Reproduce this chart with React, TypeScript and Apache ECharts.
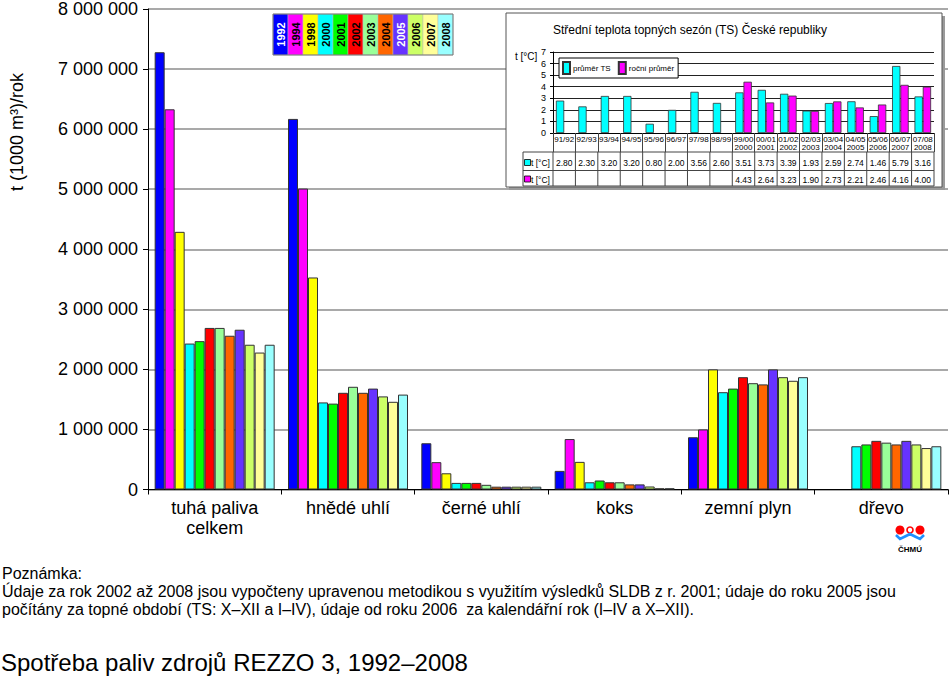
import React, { useEffect, useRef } from 'react';
import * as echarts from 'echarts';

const categories = ['tuhá paliva\ncelkem', 'hnědé uhlí', 'černé uhlí', 'koks', 'zemní plyn', 'dřevo'];
const years = ['1992', '1994', '1998', '2000', '2001', '2002', '2003', '2004', '2005', '2006', '2007', '2008'];
const yearColors = ['#0000FF', '#FF00FF', '#FFFF00', '#00FFFF', '#00FF00', '#FF0000', '#99FF99', '#FF6600', '#6633FF', '#CCFF66', '#FFFF99', '#99FFFF'];
const yearTextColors = ['#fff', '#000', '#000', '#000', '#000', '#000', '#000', '#000', '#fff', '#000', '#000', '#000'];

const v1992 = [7280000, 6170000, 770000, 310000, 870000, null];
const v1994 = [6330000, 5010000, 455000, 840000, 1000000, null];
const v1998 = [4290000, 3530000, 270000, 460000, 2000000, null];
const v2000 = [2430000, 1450000, 110000, 120000, 1620000, 720000];
const v2001 = [2470000, 1430000, 110000, 150000, 1680000, 750000];
const v2002 = [2690000, 1610000, 110000, 120000, 1870000, 810000];
const v2003 = [2690000, 1710000, 78000, 120000, 1770000, 780000];
const v2004 = [2560000, 1610000, 47000, 85000, 1750000, 750000];
const v2005 = [2660000, 1680000, 47000, 85000, 2000000, 810000];
const v2006 = [2410000, 1550000, 47000, 50000, 1870000, 750000];
const v2007 = [2280000, 1460000, 47000, 20000, 1810000, 690000];
const v2008 = [2410000, 1580000, 47000, 20000, 1870000, 720000];
const mainValues = [v1992, v1994, v1998, v2000, v2001, v2002, v2003, v2004, v2005, v2006, v2007, v2008];

const yTicks = [0, 1000000, 2000000, 3000000, 4000000, 5000000, 6000000, 7000000, 8000000];

const seasons = ['91/92', '92/93', '93/94', '94/95', '95/96', '96/97', '97/98', '98/99', '99/00\n2000', '00/01\n2001', '01/02\n2002', '02/03\n2003', '03/04\n2004', '04/05\n2005', '05/06\n2006', '06/07\n2007', '07/08\n2008'];
const tsAvg = [2.80, 2.30, 3.20, 3.20, 0.80, 2.00, 3.56, 2.60, 3.51, 3.73, 3.39, 1.93, 2.59, 2.74, 1.46, 5.79, 3.16];
const yearAvg = [null, null, null, null, null, null, null, null, 4.43, 2.64, 3.23, 1.90, 2.73, 2.21, 2.46, 4.16, 4.00];
const insetNames = ['průměr TS', 'roční průměr'];
const insetColors = ['#00FFFF', '#FF00FF'];

const FONT = '"Liberation Sans", Arial, sans-serif';

function fmt(v: number) {
  return String(v).replace(/\B(?=(\d{3})+(?!\d))/g, ' ');
}

function buildOption() {
  const insetL = 553, insetR = 934, insetTop = 52, insetBottom = 133;
  const colW = (insetR - insetL) / seasons.length;
  const tL = 523, row1T = 152, row2T = 170.5, tB = 186;

  const g: any[] = [];
  // inset box shadow + box
  g.push({ type: 'rect', z: 1, shape: { x: 509, y: 16, width: 436, height: 174 }, style: { fill: '#9a9a9a' } });
  g.push({ type: 'rect', z: 1, shape: { x: 506, y: 13, width: 436, height: 174 }, style: { fill: '#fff', stroke: '#555', lineWidth: 1 } });
  g.push({ type: 'text', z: 5, x: 690, y: 30, style: { text: 'Střední teplota topných sezón (TS) České republiky', font: '12px ' + FONT, fill: '#000', align: 'center', verticalAlign: 'middle' } });
  g.push({ type: 'text', z: 5, x: 515, y: 56, style: { text: 't [°C]', font: '10px ' + FONT, fill: '#000', align: 'left', verticalAlign: 'middle' } });

  // table lines
  const ln = (x1: number, y1: number, x2: number, y2: number) => ({ type: 'line', z: 5, shape: { x1, y1, x2, y2 }, style: { stroke: '#444', lineWidth: 1 } });
  g.push(ln(tL, row1T, insetR, row1T));
  g.push(ln(tL, row2T, insetR, row2T));
  g.push(ln(tL, tB, insetR, tB));
  g.push(ln(tL, row1T, tL, tB));
  for (let i = 0; i <= seasons.length; i++) {
    const x = insetL + i * colW;
    g.push(ln(x, row1T, x, tB));
  }
  // row labels
  const rowsY = [163, 179.5];
  [0, 1].forEach((r) => {
    g.push({ type: 'rect', z: 5, shape: { x: 524.5, y: rowsY[r] - 3.5, width: 6, height: 6 }, style: { fill: insetColors[r], stroke: '#000', lineWidth: 0.8 } });
    g.push({ type: 'text', z: 5, x: 531, y: rowsY[r], style: { text: 't [°C]', font: '8.5px ' + FONT, fill: '#000', align: 'left', verticalAlign: 'middle' } });
  });
  const rows = [tsAvg, yearAvg];
  rows.forEach((arr, r) => {
    arr.forEach((v, i) => {
      if (v == null) return;
      g.push({ type: 'text', z: 5, x: insetL + (i + 0.5) * colW, y: rowsY[r], style: { text: v.toFixed(2), font: '8.5px ' + FONT, fill: '#000', align: 'center', verticalAlign: 'middle' } });
    });
  });

  // main legend
  const lgX = 273, lgY = 14, cw = 15, lh = 41;
  years.forEach((y, i) => {
    g.push({ type: 'rect', z: 6, shape: { x: lgX + i * cw, y: lgY, width: cw, height: lh }, style: { fill: yearColors[i], stroke: '#bbb', lineWidth: 0.5 } });
    g.push({ type: 'text', z: 7, x: lgX + i * cw + cw / 2, y: lgY + lh / 2, rotation: Math.PI / 2, style: { text: y, font: 'bold 11px ' + FONT, fill: yearTextColors[i], align: 'center', verticalAlign: 'middle' } });
  });
  g.push({ type: 'rect', z: 7, shape: { x: lgX, y: lgY, width: cw * years.length, height: lh }, style: { fill: 'none', stroke: '#777', lineWidth: 1 } });

  // y axis name
  g.push({ type: 'text', z: 5, x: 17, y: 132, rotation: Math.PI / 2, style: { text: 't (1000 m³)/rok', font: '18px ' + FONT, fill: '#000', align: 'center', verticalAlign: 'middle' } });

  // notes & title
  g.push({ type: 'text', z: 5, x: 2, y: 573, style: { text: 'Poznámka:', font: '16px ' + FONT, fill: '#000', align: 'left', verticalAlign: 'middle' } });
  g.push({ type: 'text', z: 5, x: 2, y: 591, style: { text: 'Údaje za rok 2002 až 2008 jsou vypočteny upravenou metodikou s využitím výsledků SLDB z r. 2001; údaje do roku 2005 jsou', font: '16px ' + FONT, fill: '#000', align: 'left', verticalAlign: 'middle' } });
  g.push({ type: 'text', z: 5, x: 2, y: 609, style: { text: 'počítány za topné období (TS: X–XII a I–IV), údaje od roku 2006  za kalendářní rok (I–IV a X–XII).', font: '16px ' + FONT, fill: '#000', align: 'left', verticalAlign: 'middle' } });
  g.push({ type: 'text', z: 5, x: 1, y: 662, style: { text: 'Spotřeba paliv zdrojů REZZO 3, 1992–2008', font: '24px ' + FONT, fill: '#000', align: 'left', verticalAlign: 'middle' } });

  // logo
  g.push({ type: 'circle', z: 5, shape: { cx: 900, cy: 530, r: 4.5 }, style: { fill: '#FF0000' } });
  g.push({ type: 'ring', z: 5, shape: { cx: 910, cy: 530, r: 3.8, r0: 2.2 }, style: { fill: '#FF0000' } });
  g.push({ type: 'circle', z: 5, shape: { cx: 920, cy: 530, r: 4.5 }, style: { fill: '#FF0000' } });
  g.push({ type: 'polyline', z: 5, shape: { points: [[896, 535], [900, 539], [905, 536.5], [910, 534], [915, 536.5], [920, 539], [924, 535]] }, style: { stroke: '#1E90FF', lineWidth: 2.6, fill: 'none' } });
  g.push({ type: 'text', z: 5, x: 910, y: 549, style: { text: 'ČHMÚ', font: 'bold 8px ' + FONT, fill: '#000', align: 'center', verticalAlign: 'middle' } });

  const mainSeries = years.map((y, i) => ({
    name: y,
    type: 'bar',
    xAxisIndex: 0,
    yAxisIndex: 0,
    data: mainValues[i],
    barGap: '0%',
    barCategoryGap: '10%',
    z: 2,
    itemStyle: { color: yearColors[i], borderColor: '#333', borderWidth: 1 },
  }));

  const insetSeries = [tsAvg, yearAvg].map((arr, i) => ({
    name: insetNames[i],
    type: 'bar',
    xAxisIndex: 1,
    yAxisIndex: 1,
    data: arr,
    barGap: '0%',
    barCategoryGap: '26%',
    z: 3,
    itemStyle: { color: insetColors[i], borderColor: '#333', borderWidth: 0.8 },
  }));

  return {
    animation: false,
    backgroundColor: '#fff',
    textStyle: { fontFamily: FONT },
    grid: [
      { left: 148, right: 2, top: 8, bottom: 186.5, containLabel: false },
      { left: insetL, top: insetTop, width: insetR - insetL, height: insetBottom - insetTop, containLabel: false },
    ],
    legend: {
      data: insetNames,
      left: 559,
      top: 58,
      orient: 'horizontal',
      icon: 'rect',
      itemWidth: 7,
      itemHeight: 12,
      itemGap: 7,
      padding: [3, 4, 3, 3],
      backgroundColor: '#fff',
      borderColor: '#000',
      borderWidth: 1,
      z: 6,
      textStyle: { fontSize: 8, color: '#000', fontFamily: FONT, padding: [0, 0, 0, -2] },
    },
    xAxis: [
      {
        type: 'category',
        gridIndex: 0,
        data: categories,
        axisLine: { show: true, lineStyle: { color: '#000', width: 1 } },
        axisTick: { show: true, length: 5, interval: 0, lineStyle: { color: '#000' } },
        axisLabel: { interval: 0, fontSize: 18, lineHeight: 20, margin: 8, color: '#000', fontFamily: FONT },
        splitLine: { show: false },
      },
      {
        type: 'category',
        gridIndex: 1,
        data: seasons,
        z: 2,
        axisLine: { show: true, lineStyle: { color: '#000', width: 1 } },
        axisTick: { show: true, length: 19, interval: 0, lineStyle: { color: '#444' } },
        axisLabel: { interval: 0, fontSize: 8, lineHeight: 7.5, margin: 3, color: '#000', fontFamily: FONT },
        splitLine: { show: false },
      },
    ],
    yAxis: [
      {
        type: 'value',
        gridIndex: 0,
        min: yTicks[0],
        max: yTicks[yTicks.length - 1],
        interval: yTicks[1] - yTicks[0],
        axisLine: { show: true, lineStyle: { color: '#000', width: 1 } },
        axisTick: { show: true, length: 5, lineStyle: { color: '#000' } },
        axisLabel: { fontSize: 18, margin: 10, color: '#000', fontFamily: FONT, formatter: (v: number) => fmt(v) },
        splitLine: { show: true, lineStyle: { color: '#8c8c8c', width: 1.5 } },
      },
      {
        type: 'value',
        gridIndex: 1,
        min: 0,
        max: 7,
        interval: 1,
        z: 2,
        axisLine: { show: true, lineStyle: { color: '#000', width: 1 } },
        axisTick: { show: true, length: 3, lineStyle: { color: '#000' } },
        axisLabel: { fontSize: 9, margin: 7, color: '#000', fontFamily: FONT },
        splitLine: { show: true, lineStyle: { color: '#222', width: 1 } },
      },
    ],
    graphic: { elements: g },
    series: [...mainSeries, ...insetSeries],
  };
}

export default function App() {
  const ref = useRef<HTMLDivElement>(null);
  useEffect(() => {
    const chart = echarts.init(ref.current as HTMLDivElement, null, { renderer: 'svg' });
    chart.setOption(buildOption() as any);
    return () => chart.dispose();
  }, []);
  return (
    <div
      ref={ref}
      style={{ position: 'absolute', left: 0, top: 0, width: 950, height: 676, background: '#fff' }}
    />
  );
}
